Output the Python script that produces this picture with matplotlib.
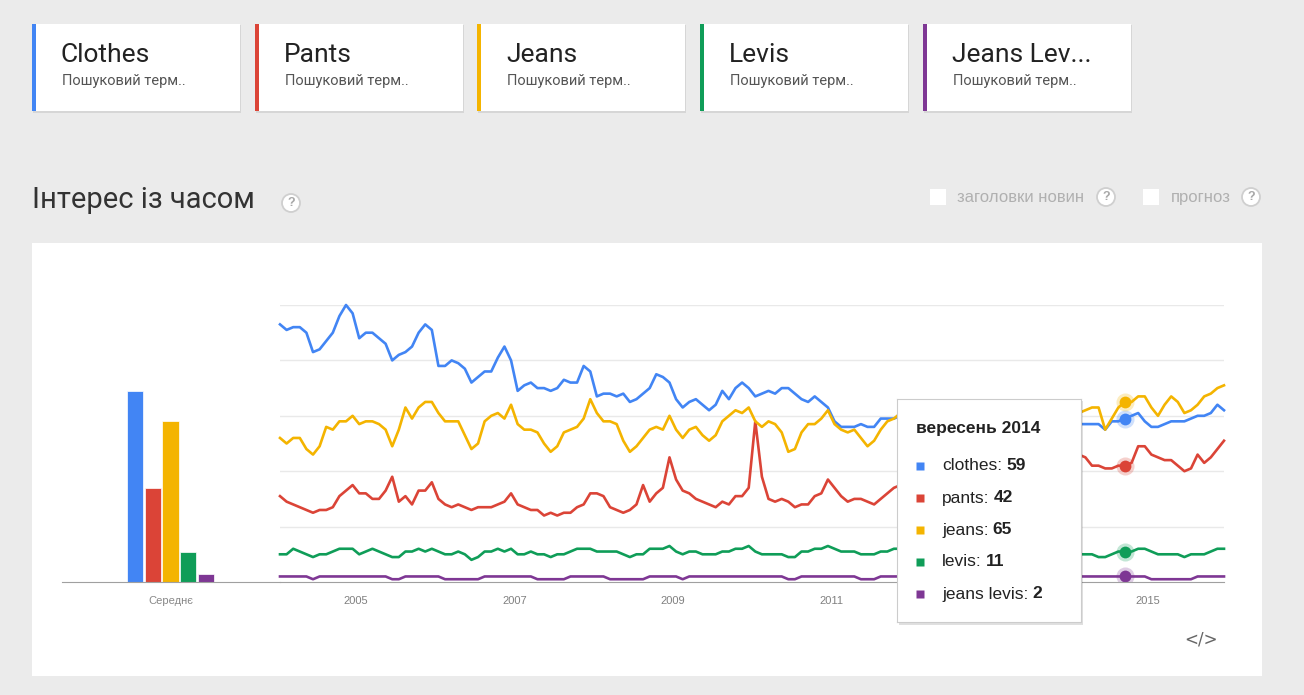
import numpy as np
import matplotlib
matplotlib.use('Agg')
import matplotlib.pyplot as plt
from matplotlib.patches import Rectangle, Ellipse


# =====================================
# Data (monthly interest, 2004-01 .. 2015-12)
# =====================================
terms = ['clothes', 'pants', 'jeans', 'levis', 'jeans levis']
card_titles = ['Clothes', 'Pants', 'Jeans', 'Levis', 'Jeans Lev...']
card_subtitle = 'Пошуковий терм..'
colors = ['#4285f4', '#db4437', '#f4b400', '#0f9d58', '#7e3794']

averages = [69, 34, 58, 11, 3]

clothes = [93, 91, 92, 92, 90, 83, 84, 87, 90, 96, 100, 97, 88, 90, 90, 88, 86, 80, 82, 83, 85, 90, 93, 91,
           78, 78, 80, 79, 77, 72, 74, 76, 76, 81, 85, 80, 69, 71, 72, 70, 70, 69, 70, 73, 72, 72, 78, 76,
           67, 68, 68, 67, 68, 65, 66, 68, 70, 75, 74, 72, 66, 63, 65, 66, 64, 62, 64, 69, 66, 70, 72, 70,
           67, 68, 69, 68, 70, 70, 68, 66, 65, 67, 65, 63, 58, 56, 56, 56, 57, 56, 56, 59, 59, 59,
           60, 61, 58, 57, 57, 58, 57, 56, 57, 58, 59, 60, 60, 59, 61, 58, 57, 57, 56, 56, 57, 58, 58, 57, 58, 59, 57, 57,
           57, 57, 57, 55, 58, 58, 59, 60, 61, 58, 56, 56, 57, 58, 58, 58, 59, 60, 60, 61, 64, 62]

pants = [31, 29, 28, 27, 26, 25, 26, 26, 27, 31, 33, 35, 32, 32, 30, 30, 33, 38, 29, 31, 28, 33, 33, 36,
         30, 28, 27, 28, 27, 26, 27, 27, 27, 28, 29, 32, 28, 27, 26, 26, 24, 25, 24, 25, 25, 27, 28, 32,
         32, 31, 27, 26, 25, 26, 28, 35, 29, 32, 34, 45, 37, 33, 32, 30, 29, 28, 27, 29, 28, 31, 31, 34,
         58, 38, 30, 29, 30, 29, 27, 28, 28, 31, 32, 37, 34, 31, 29, 30, 30, 29, 28, 30, 32, 34,
         35, 37, 35, 33, 34, 33, 32, 31, 33, 35, 37, 40, 42, 39, 38, 38, 37, 36, 36, 38, 40, 43, 46, 43, 42, 41, 44, 46,
         45, 42, 42, 41, 41, 42, 42, 43, 49, 49, 46, 45, 44, 44, 42, 40, 41, 46, 43, 45, 48, 51]

jeans = [52, 50, 52, 52, 48, 46, 49, 56, 55, 58, 58, 60, 57, 58, 58, 57, 55, 49, 55, 63, 59, 63, 65, 65,
         61, 58, 58, 58, 53, 48, 50, 58, 60, 61, 59, 64, 57, 55, 55, 54, 50, 47, 49, 54, 55, 56, 59, 66,
         61, 58, 58, 57, 51, 47, 49, 52, 55, 56, 55, 60, 55, 52, 55, 56, 53, 51, 53, 58, 60, 62, 61, 63,
         58, 56, 58, 57, 54, 47, 48, 54, 57, 57, 59, 62, 57, 55, 54, 55, 52, 49, 51, 55, 58, 59,
         61, 62, 57, 56, 55, 56, 52, 50, 52, 56, 58, 60, 61, 63, 64, 59, 58, 57, 55, 52, 54, 58, 60, 61, 63, 64, 61, 61,
         62, 63, 63, 55, 59, 63, 65, 65, 67, 67, 63, 60, 64, 67, 65, 61, 62, 64, 67, 68, 70, 71]

levis = [10, 10, 12, 11, 10, 9, 10, 10, 11, 12, 12, 12, 10, 11, 12, 11, 10, 9, 9, 11, 11, 12, 11, 12,
         11, 10, 10, 11, 10, 8, 9, 11, 11, 12, 11, 12, 10, 10, 11, 10, 10, 9, 10, 10, 11, 12, 12, 12,
         11, 11, 11, 11, 10, 9, 10, 10, 12, 12, 12, 13, 11, 10, 11, 11, 10, 10, 10, 11, 11, 12, 12, 13,
         11, 10, 10, 10, 10, 9, 9, 11, 11, 12, 12, 13, 12, 11, 11, 11, 10, 10, 10, 11, 11, 12,
         12, 12, 11, 11, 11, 10, 10, 10, 11, 11, 12, 12, 12, 11, 11, 11, 10, 10, 10, 11, 11, 12, 12, 11, 11, 11, 10, 10,
         10, 10, 9, 9, 10, 11, 11, 11, 12, 12, 11, 10, 10, 10, 10, 9, 10, 10, 10, 11, 12, 12]

jeans_levis = [2, 2, 2, 2, 2, 1, 2, 2, 2, 2, 2, 2, 2, 2, 2, 2, 2, 1, 1, 2, 2, 2, 2, 2,
               2, 1, 1, 1, 1, 1, 1, 2, 2, 2, 2, 2, 2, 2, 2, 1, 1, 1, 1, 1, 2, 2, 2, 2,
               2, 2, 1, 1, 1, 1, 1, 1, 2, 2, 2, 2, 2, 1, 2, 2, 2, 2, 2, 2, 2, 2, 2, 2,
               2, 2, 2, 2, 2, 1, 1, 2, 2, 2, 2, 2, 2, 2, 2, 2, 1, 1, 1, 2, 2, 2,
               2, 2, 2, 2, 2, 1, 1, 1, 2, 2, 2, 2, 2, 2, 2, 2, 2, 1, 1, 1, 2, 2, 2, 2, 2, 2, 2, 2,
               2, 2, 2, 2, 2, 2, 2, 2, 2, 2, 1, 1, 1, 1, 1, 1, 1, 2, 2, 2, 2, 2]

series = [clothes, pants, jeans, levis, jeans_levis]

start_year = 2004
# 2013 sits under the tooltip in the screenshot
year_labels = [2005, 2007, 2009, 2011, 2015]
avg_label = 'Середнє'
title = 'Інтерес із часом'
hover_idx = 128
hover_label = 'вересень 2014'
option_labels = ['заголовки новин', 'прогноз']


# =====================================
# Layout helpers (pixel coords, origin top-left)
# =====================================
W, H = 1304, 695
fig = plt.figure(figsize=(W / 100, H / 100), dpi=100, facecolor='#ebebeb')


def fx(x):
    return x / W


def fy(y):
    return 1 - y / H


def box(x0, y0, x1, y1, **kw):
    r = Rectangle((fx(x0), fy(y1)), (x1 - x0) / W, (y1 - y0) / H,
                  transform=fig.transFigure, **kw)
    fig.add_artist(r)
    return r


def qmark(x, y, r=9):
    fig.add_artist(Ellipse((fx(x), fy(y)), 2 * r / W, 2 * r / H, transform=fig.transFigure,
                           facecolor='white', edgecolor='#cfcfcf', lw=1.3, zorder=2))
    fig.text(fx(x), fy(y), '?', ha='center', va='center', fontsize=9,
             color='#a8a8a8', family='Liberation Sans', weight='bold', zorder=3)


# ---------------------------------
# Term cards
# ---------------------------------
for i, (name, col) in enumerate(zip(card_titles, colors)):
    x0 = 32 + i * 222.7
    box(x0 + 1, 25, x0 + 209, 113, facecolor='#d6d6d6', edgecolor='none', zorder=1)
    box(x0, 24, x0 + 208, 111, facecolor='white', edgecolor='none', zorder=1)
    box(x0, 24, x0 + 4, 111, facecolor=col, edgecolor='none', zorder=2)
    fig.text(fx(x0 + 29), fy(55), name, fontsize=19, family='Roboto',
             color='#222222', va='center', ha='left')
    fig.text(fx(x0 + 30), fy(81), card_subtitle, fontsize=10.5, family='Roboto',
             color='#555555', va='center', ha='left')

# ---------------------------------
# Section title + options
# ---------------------------------
fig.text(fx(32), fy(200), title, fontsize=21, family='Roboto',
         color='#333333', va='center', ha='left')
qmark(291, 203)

box(930, 189, 946, 205, facecolor='white', edgecolor='none')
fig.text(fx(957), fy(197), option_labels[0], fontsize=12, family='Liberation Sans',
         color='#b0b0b0', va='center', ha='left')
qmark(1106, 197)
box(1143, 189, 1159, 205, facecolor='white', edgecolor='none')
fig.text(fx(1171), fy(197), option_labels[1], fontsize=12, family='Liberation Sans',
         color='#b0b0b0', va='center', ha='left')
qmark(1251, 197)

# white chart panel
box(32, 243, 1262, 676, facecolor='white', edgecolor='none', zorder=-1)

# =====================================
# Average bars
# =====================================
bx = fig.add_axes([fx(62), fy(582), 218 / W, 277 / H], facecolor='none')
step = 17.6
xl0 = -(135.3 - 62) / step
bx.bar(np.arange(len(averages)), averages, width=0.91, color=colors, edgecolor='white', lw=0.5)
bx.set_xlim(xl0, xl0 + 218 / step)
bx.set_ylim(0, 100)
bx.set_xticks([2])
bx.set_xticklabels([avg_label], fontsize=8, color='#888888', family='Liberation Sans')
bx.tick_params(axis='x', length=0, pad=10)
bx.set_yticks([])
for s in ['top', 'left', 'right']:
    bx.spines[s].set_visible(False)
bx.spines['bottom'].set_color('#a0a0a0')

# =====================================
# Interest over time
# =====================================
ax = fig.add_axes([fx(280), fy(582), 944 / W, 277 / H], facecolor='none')
months = np.arange(len(clothes))
for vals, col in zip(series, colors):
    ax.plot(months, vals, color=col, lw=1.9, solid_joinstyle='round', clip_on=False)
for vals, col in zip(series, colors):
    ax.plot(hover_idx, vals[hover_idx], 'o', ms=13, color=col, alpha=0.25, mec='none')
    ax.plot(hover_idx, vals[hover_idx], 'o', ms=8.5, color=col, mec='none')

ax.set_xlim(0, len(clothes) - 1)
ax.set_ylim(0, 100)
ax.set_yticks([20, 40, 60, 80, 100])
ax.set_yticklabels([])
ax.tick_params(axis='y', length=0)
ax.grid(axis='y', color='#e9e9e9', lw=1)
ax.set_axisbelow(True)
ax.set_xticks([(y - start_year) * 12 - 0.5 for y in year_labels])
ax.set_xticklabels([str(y) for y in year_labels], fontsize=8, color='#808080',
                   family='Liberation Sans')
ax.tick_params(axis='x', length=0, pad=10)
for s in ['top', 'left', 'right']:
    ax.spines[s].set_visible(False)
ax.spines['bottom'].set_color('#a0a0a0')

# ---------------------------------
# Hover tooltip
# ---------------------------------
box(899, 401, 1083, 625, facecolor='black', alpha=0.12, edgecolor='none', zorder=9)
tip = fig.add_axes([fx(897), fy(622), 184 / W, 223 / H], zorder=10, facecolor='white')
tip.set_xlim(0, 184)
tip.set_ylim(223, 0)
tip.set_xticks([])
tip.set_yticks([])
for s in tip.spines.values():
    s.set_color('#cccccc')
tip.text(19, 29, hover_label, fontsize=12.5, weight='bold', color='#222222',
         family='Liberation Sans', va='center')
for i, (name, vals, col) in enumerate(zip(terms, series, colors)):
    yy = 67 + 32 * i
    tip.plot(23, yy, 's', ms=6, color=col, mec='none')
    t = tip.text(45, yy, f'{name}:', fontsize=12.5, color='#222222',
                 family='Liberation Sans', va='center')
    tip.annotate(str(vals[hover_idx]), xy=(1, 0.5), xycoords=t, xytext=(3, 0),
                 textcoords='offset points', fontsize=12.5, weight='bold', color='#222222',
                 family='Liberation Sans', va='center', ha='left')

# embed icon
fig.text(fx(1201), fy(640), '</>', fontsize=12, color='#666666', ha='center', va='center',
         family='DejaVu Sans')

fig.savefig('out.png', dpi=100, facecolor=fig.get_facecolor())
